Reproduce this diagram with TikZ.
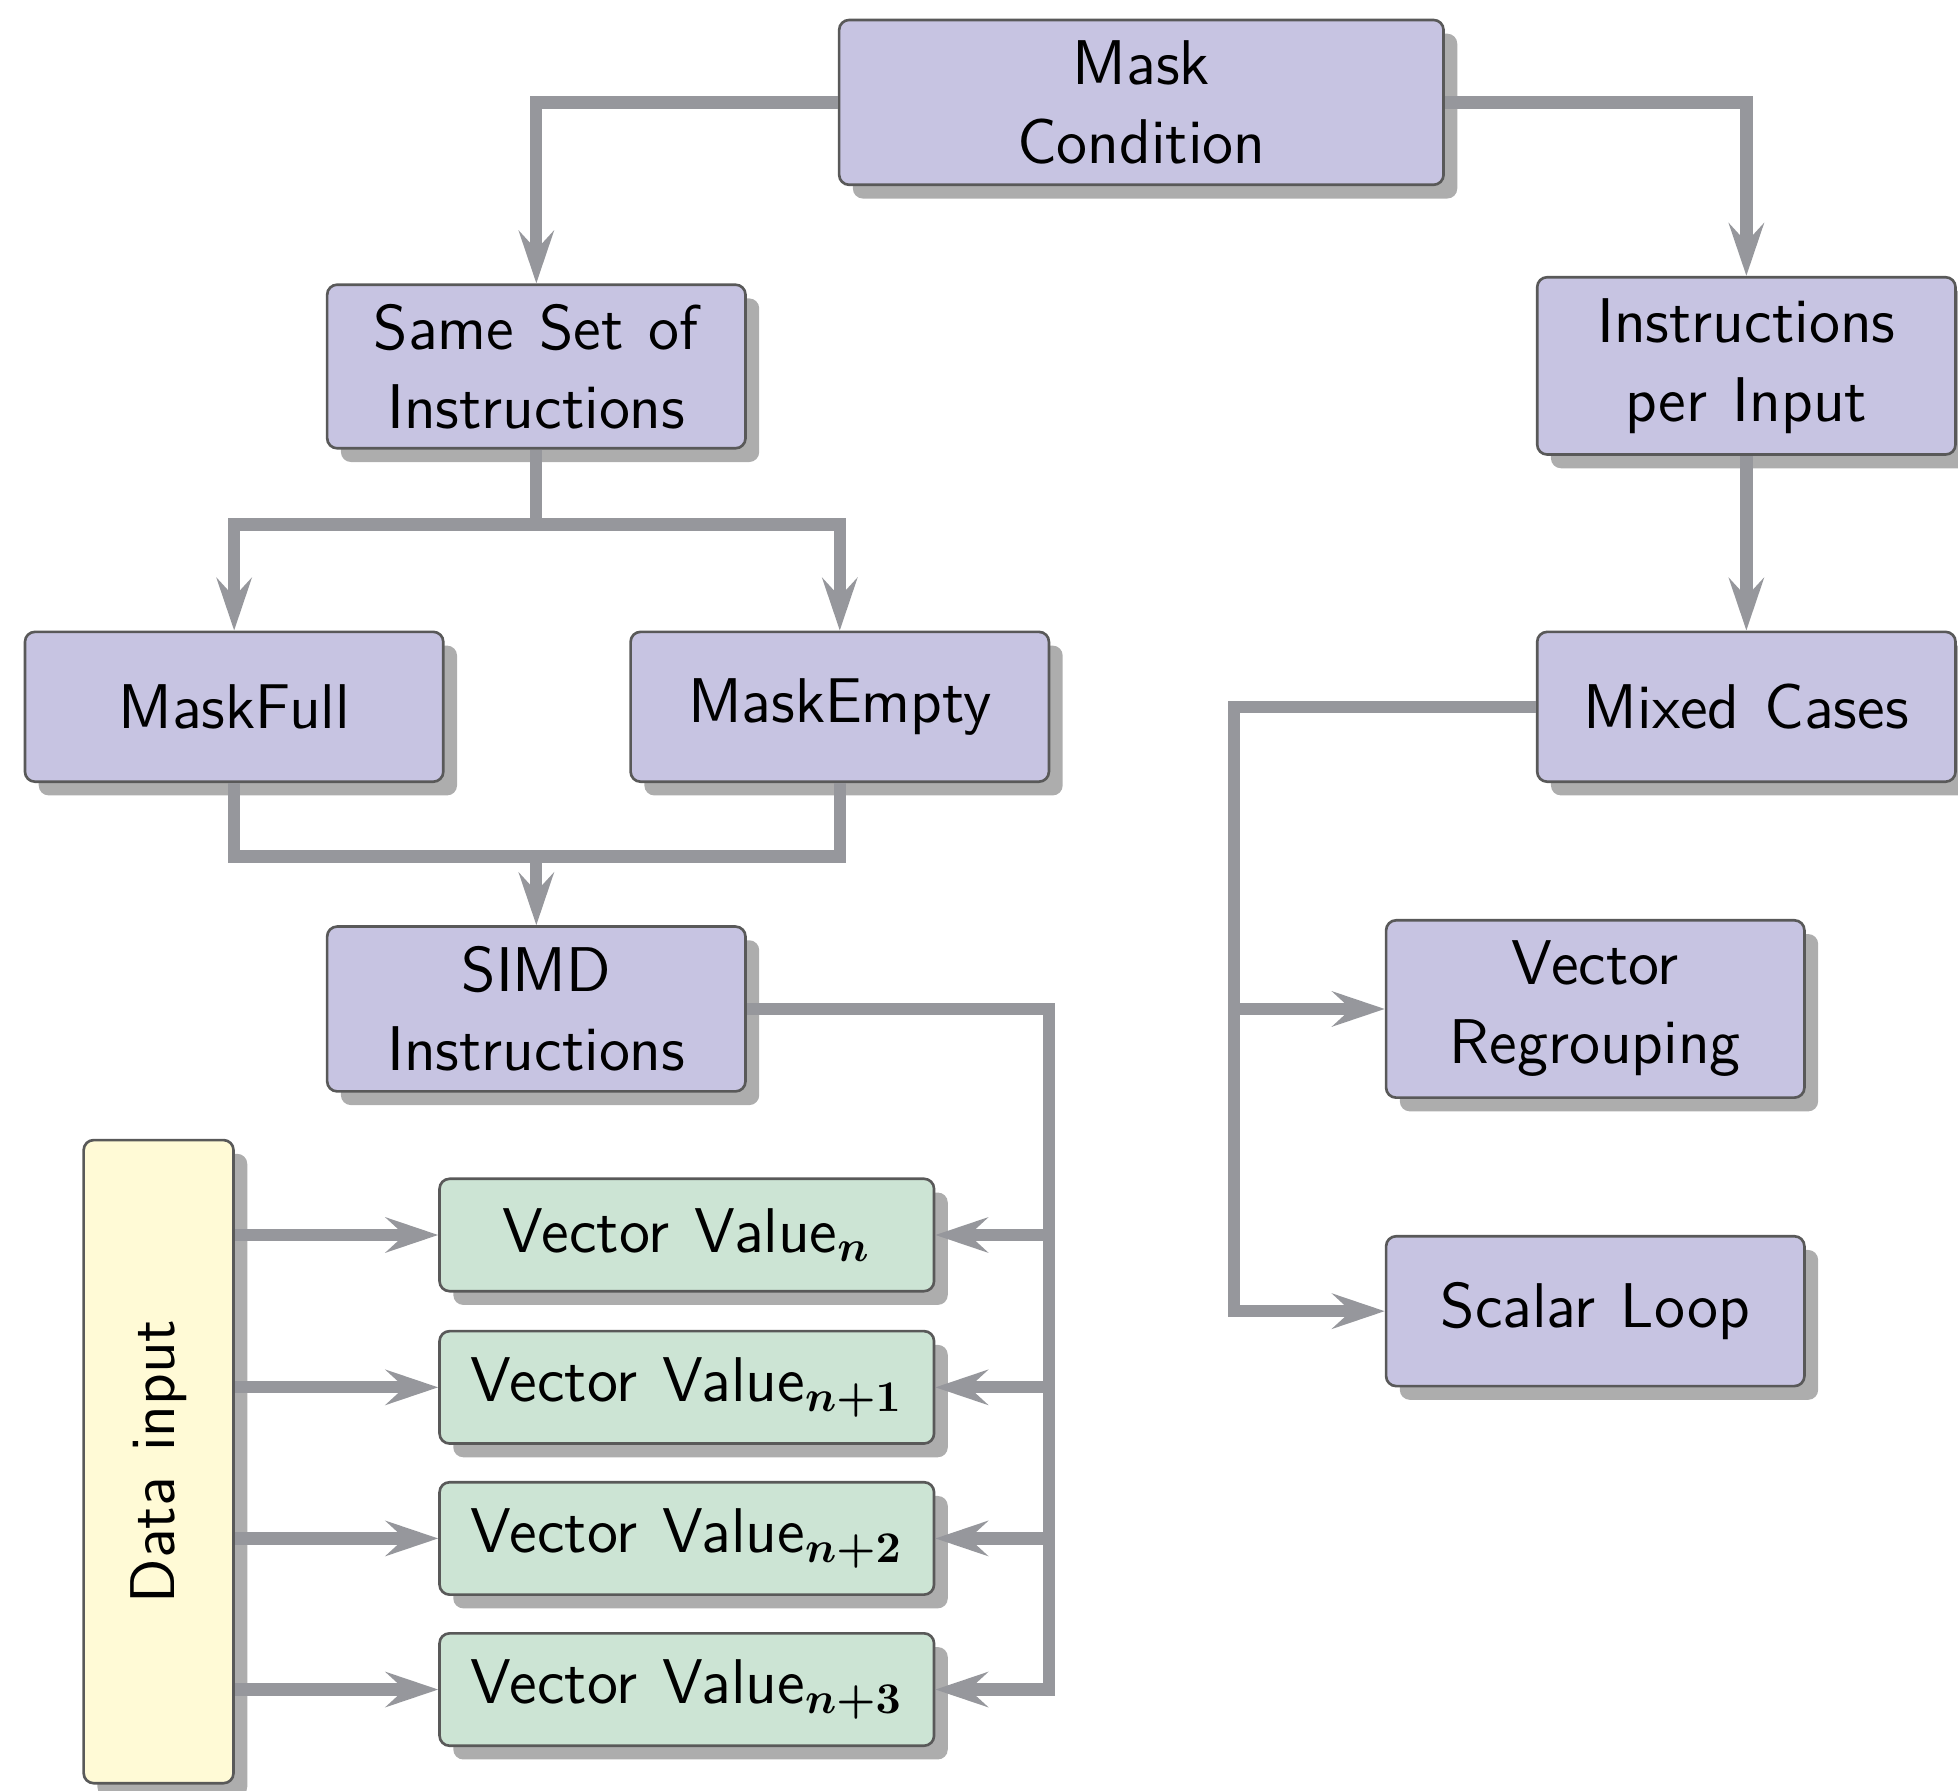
\documentclass[tikz,border=0pt]{standalone}
\usepackage{amsmath}
\usepackage{graphicx}
\usepackage{tikz}
\usetikzlibrary{shadows,arrows.meta}
\definecolor{boxlilac}{RGB}{199,196,226}
\definecolor{boxmint}{RGB}{204,228,212}
\definecolor{boxcream}{RGB}{255,250,214}
\definecolor{linegray}{RGB}{150,151,156}
\newcommand{\boxfont}{\sffamily\fontsize{14.4}{18}\selectfont\spaceskip=0.4em plus 0.1em\relax}

\begin{document}
\begin{tikzpicture}[font=\boxfont]
\useasboundingbox (0,0) rectangle (15.68,14.34);
\tikzstyle{boxshadow}=[drop shadow={shadow xshift=0.11cm,shadow yshift=-0.11cm,fill=black!32,opacity=1}];
\tikzstyle{box}=[draw=black!65,line width=0.6pt,rounded corners=0.08cm,fill=boxlilac,boxshadow,align=center,minimum width=3.35cm,inner sep=0pt];
\tikzstyle{vec}=[box,fill=boxmint,minimum width=3.96cm,minimum height=0.9cm];
\tikzstyle{conn}=[draw=linegray,line width=2.8pt];
\tikzstyle{flow}=[conn,-{Stealth[length=0.42cm,width=0.28cm,inset=0.15cm]}];

\node (mask) [box,minimum width=4.84cm,minimum height=1.32cm] at (9.14,13.52) {Mask\\Condition};
\node (same) [box,minimum height=1.31cm] at (4.295,11.405) {Same Set of\\Instructions};
\node (perin) [box,minimum height=1.42cm] at (13.985,11.41) {Instructions\\per Input};
\node (full) [box,minimum height=1.2cm] at (1.875,8.68) {MaskFull};
\node (empty) [box,minimum height=1.2cm] at (6.725,8.68) {MaskEmpty};
\node (mixed) [box,minimum height=1.2cm] at (13.985,8.68) {Mixed Cases};
\node (simd) [box,minimum height=1.32cm] at (4.295,6.26) {SIMD\\Instructions};
\node (regroup) [box,minimum height=1.42cm] at (12.775,6.26) {Vector\\Regrouping};
\node (scalar) [box,minimum height=1.2cm] at (12.775,3.84) {Scalar Loop};

% data path
\node (data) [box,fill=boxcream,minimum width=1.2cm,minimum height=5.15cm] at (1.27,2.635) {\rotatebox{90}{Data input}};
\node (vv0) [vec] at (5.50,4.45) {Vector Value$_{\boldsymbol{n}}$};
\node (vv1) [vec] at (5.50,3.23) {Vector Value$_{\boldsymbol{n+1}}$};
\node (vv2) [vec] at (5.50,2.02) {Vector Value$_{\boldsymbol{n+2}}$};
\node (vv3) [vec] at (5.50,0.81) {Vector Value$_{\boldsymbol{n+3}}$};

\coordinate (split) at (4.295,10.14);
\coordinate (merge) at (4.295,7.48);
\coordinate (bend) at (9.88,6.26);
\coordinate (bus) at (8.40,6.26);

\draw [flow] (mask.west) -| (same.north);
\draw [flow] (mask.east) -| (perin.north);
\draw [conn] (same.south) -- (split);
\draw [flow] (split) -| (full.north);
\draw [flow] (split) -| (empty.north);
\draw [conn] (full.south) |- (merge) -| (empty.south);
\draw [flow] (merge) -- (simd.north);

\draw [flow] (perin.south) -- (mixed.north);
\draw [flow] (mixed.west) -| (bend) |- (scalar.west);
\draw [flow] (bend) -- (regroup.west);

\draw [flow] (simd.east) -- (bus) |- (vv3.east);
\draw [flow] (bus |- vv0.east) -- (vv0.east);
\draw [flow] (bus |- vv1.east) -- (vv1.east);
\draw [flow] (bus |- vv2.east) -- (vv2.east);

\draw [flow] (data.east |- vv0.west) -- (vv0.west);
\draw [flow] (data.east |- vv1.west) -- (vv1.west);
\draw [flow] (data.east |- vv2.west) -- (vv2.west);
\draw [flow] (data.east |- vv3.west) -- (vv3.west);
\end{tikzpicture}
\end{document}
